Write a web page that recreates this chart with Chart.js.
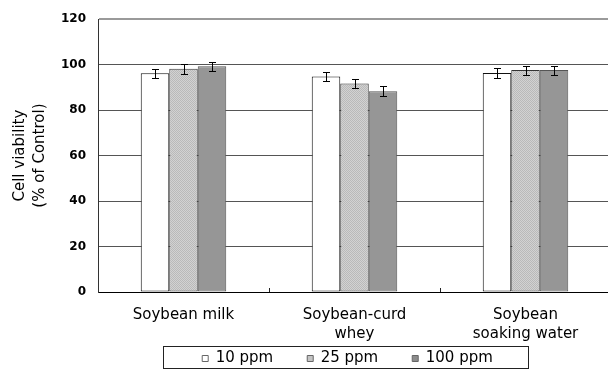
<!DOCTYPE html>
<html>
<head>
<meta charset="utf-8">
<script src="https://cdn.jsdelivr.net/npm/chart.js@4.4.0/dist/chart.umd.min.js"></script>
<style>
  html, body { margin: 0; padding: 0; background: #fff; }
  #wrap { width: 608px; height: 370px; overflow: hidden; }
</style>
</head>
<body>
<div id="wrap"><canvas id="chart" width="612" height="370"></canvas></div>
<script>
// ========== Data ==========
const categories = [["Soybean milk"], ["Soybean-curd", "whey"], ["Soybean", "soaking water"]];
const seriesNames = ["10 ppm", "25 ppm", "100 ppm"];
const ppm10 = [96.2, 94.8, 96.3];
const ppm25 = [98.2, 91.7, 97.6];
const ppm100 = [99.3, 88.3, 97.6];
const err10 = [2.0, 2.1, 2.1];
const err25 = [2.1, 2.1, 2.0];
const err100 = [2.0, 2.1, 2.0];
const yTicks = [0, 20, 40, 60, 80, 100, 120];

const FONT = "'DejaVu Sans', sans-serif";

// ========== Hatch pattern for the 25 ppm bars ==========
function makeHatch() {
  const c = document.createElement("canvas");
  c.width = 2; c.height = 2;
  const g = c.getContext("2d");
  g.fillStyle = "#d2d2d2"; g.fillRect(0, 0, 2, 2);
  g.fillStyle = "#b9b9b9"; g.fillRect(0, 0, 1, 1); g.fillRect(1, 1, 1, 1);
  return g.createPattern(c, "repeat");
}
const hatch = makeHatch();

// ========== Plugins ==========
const errorBars = {
  id: "errorBars",
  afterDatasetsDraw(chart) {
    const { ctx } = chart;
    const y = chart.scales.y;
    const errs = [err10, err25, err100];
    ctx.save();
    ctx.strokeStyle = "#000";
    ctx.lineWidth = 1;
    chart.data.datasets.forEach((ds, di) => {
      chart.getDatasetMeta(di).data.forEach((bar, i) => {
        const v = ds.data[i], e = errs[di][i];
        const x = Math.round(bar.x) + 0.5;
        const t = Math.round(y.getPixelForValue(v + e)) + 0.5;
        const b = Math.round(y.getPixelForValue(v - e)) + 0.5;
        ctx.beginPath();
        ctx.moveTo(x, t); ctx.lineTo(x, b);
        ctx.moveTo(x - 3.5, t); ctx.lineTo(x + 3.5, t);
        ctx.moveTo(x - 3.5, b); ctx.lineTo(x + 3.5, b);
        ctx.stroke();
      });
    });
    ctx.restore();
  },
};

const legendFrame = {
  id: "legendFrame",
  afterUpdate(chart) {
    const lg = chart.legend;
    const dx = 42;
    lg.left += dx; lg.right += dx;
    lg.top = 351 - lg.options.labels.padding;
    lg.adjustHitBoxes();
  },
  afterDraw(chart) {
    const { ctx } = chart;
    const boxes = chart.legend.legendHitBoxes;
    if (!boxes || !boxes.length) return;
    const l = boxes[0].left - 39;
    const last = boxes[boxes.length - 1];
    const r = last.left + last.width + 35;
    ctx.save();
    ctx.strokeStyle = "#222";
    ctx.lineWidth = 1;
    ctx.strokeRect(Math.round(l) + 0.5, 346.5, Math.round(r - l), 22);
    // small inward ticks between categories
    const x = chart.scales.x;
    const yb = chart.chartArea.bottom;
    for (let i = 1; i < categories.length; i++) {
      const px = Math.round((x.getPixelForValue(i - 1) + x.getPixelForValue(i)) / 2) + 0.5;
      ctx.beginPath();
      ctx.moveTo(px, yb); ctx.lineTo(px, yb - 4);
      ctx.stroke();
    }
    ctx.restore();
  },
};

// ========== Chart ==========
const ctx = document.getElementById("chart").getContext("2d");
new Chart(ctx, {
  type: "bar",
  data: {
    labels: categories,
    datasets: [
      { label: seriesNames[0], data: ppm10, backgroundColor: "#ffffff", borderColor: "#111" },
      { label: seriesNames[1], data: ppm25, backgroundColor: hatch, borderColor: "#333" },
      { label: seriesNames[2], data: ppm100, backgroundColor: "#969696", borderColor: "#555" },
    ],
  },
  options: {
    responsive: false,
    animation: false,
    events: [],
    layout: { padding: { top: 15, right: 1, left: 0, bottom: 0 } },
    datasets: {
      bar: {
        borderWidth: 1,
        borderSkipped: false,
        categoryPercentage: 0.5,
        barPercentage: 1.0,
      },
    },
    plugins: {
      tooltip: { enabled: false },
      legend: {
        position: "bottom",
        maxHeight: 26,
        labels: {
          color: "#000",
          font: { family: FONT, size: 15 },
          boxWidth: 6,
          boxHeight: 6,
          padding: 34,
          generateLabels(chart) {
            const fills = ["#ffffff", "#c4c4c4", "#8c8c8c"];
            return seriesNames.map((n, i) => ({
              text: n,
              fillStyle: fills[i],
              strokeStyle: "#666",
              lineWidth: 1,
              datasetIndex: i,
              fontColor: "#000",
            }));
          },
        },
      },
    },
    scales: {
      x: {
        grid: { display: false, drawTicks: false },
        border: { color: "#000", width: 1 },
        ticks: {
          color: "#000",
          font: { family: FONT, size: 15, lineHeight: 1.3 },
          padding: 13,
          maxRotation: 0,
          autoSkip: false,
        },
        afterFit(scale) { scale.height = 52; },
      },
      y: {
        min: 0,
        max: 120,
        afterBuildTicks(scale) { scale.ticks = yTicks.map((v) => ({ value: v })); },
        grid: {
          drawTicks: false,
          color: (c) => (c.tick && c.tick.value === 120 ? "#9a9a9a" : "#555"),
          lineWidth: (c) => (c.tick && c.tick.value === 120 ? 2 : 1),
        },
        border: { color: "#333", width: 1 },
        ticks: {
          color: "#000",
          font: { family: FONT, size: 12, weight: "bold" },
          padding: 12,
        },
        title: {
          display: true,
          text: ["Cell viability", "(% of Control)"],
          color: "#000",
          font: { family: FONT, size: 15, lineHeight: 1.33 },
          padding: { top: 10, bottom: 0 },
        },
        afterFit(scale) { scale.width = 98; },
      },
    },
  },
  plugins: [errorBars, legendFrame],
});
</script>
</body>
</html>
